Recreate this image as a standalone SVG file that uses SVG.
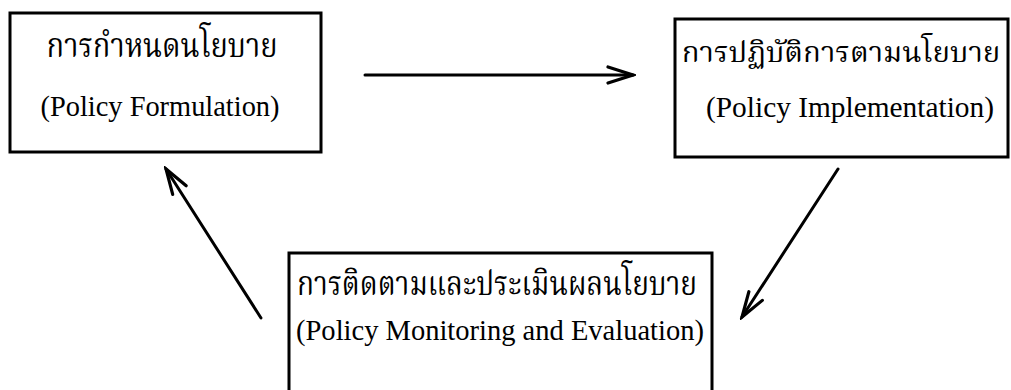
<svg xmlns="http://www.w3.org/2000/svg" width="1011" height="390" viewBox="0 0 1011 390">
<style>
.box{fill:#fff;stroke:#000;stroke-width:3}
.th{font-family:"Noto Serif Thai","Noto Sans Thai","Liberation Serif","DejaVu Serif",serif;font-size:33px;fill:#000;text-anchor:middle}
.en{font-family:"Liberation Serif","Times New Roman",serif;font-size:29px;fill:#000;text-anchor:middle}
.conn{stroke:#000;stroke-width:3;fill:none;stroke-linecap:round}
</style>
<defs>
<marker id="arr" viewBox="0 0 30 20" refX="27" refY="10" markerWidth="30" markerHeight="20" markerUnits="userSpaceOnUse" orient="auto">
<path d="M2,2 L27,10 L2,18" fill="none" stroke="#000" stroke-width="3.2" stroke-linecap="round" stroke-linejoin="miter"/>
</marker>
</defs>
<rect width="1011" height="390" fill="#fff"/>
<g id="node-formulation">
<rect class="box" x="10" y="13" width="311" height="139"/>
<text class="th" x="162" y="57" textLength="231" lengthAdjust="spacingAndGlyphs">การกำหนดนโยบาย</text>
<text class="en" x="160" y="116" textLength="239" lengthAdjust="spacingAndGlyphs">(Policy Formulation)</text>
</g>
<g id="node-implementation">
<rect class="box" x="675" y="19" width="333" height="138"/>
<text class="th" x="841" y="62" style="font-size:29.3px">การปฏิบัติการตามนโยบาย</text>
<text class="en" x="850" y="117" textLength="288" lengthAdjust="spacingAndGlyphs">(Policy Implementation)</text>
</g>
<g id="node-monitoring">
<rect class="box" x="289" y="253" width="423" height="160"/>
<text class="th" x="497" y="295" textLength="400" lengthAdjust="spacingAndGlyphs">การติดตามและประเมินผลนโยบาย</text>
<text class="en" x="500" y="340" textLength="408" lengthAdjust="spacingAndGlyphs">(Policy Monitoring and Evaluation)</text>
</g>
<g id="connectors">
<line class="conn" x1="365" y1="75" x2="633" y2="75" marker-end="url(#arr)"/>
<line class="conn" x1="838" y1="169" x2="742" y2="317" marker-end="url(#arr)"/>
<line class="conn" x1="261" y1="318" x2="166" y2="169" marker-end="url(#arr)"/>
</g>
</svg>
